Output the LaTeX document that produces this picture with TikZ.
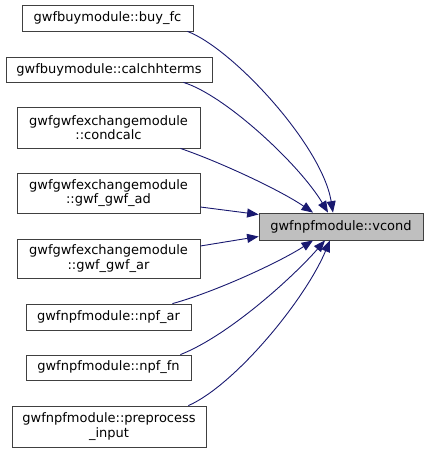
\documentclass[tikz,border=0pt]{standalone}
\usepackage{fontspec}
\setmainfont{DejaVu Sans}
\usetikzlibrary{arrows.meta}
\definecolor{edgeblue}{HTML}{191970}
\definecolor{boxgray}{HTML}{BFBFBF}
\tikzset{
  fbox/.style={draw=black!75, line width=0.8pt, fill=white, inner sep=0pt, align=center,
    font=\fontsize{13}{14.5}\selectfont},
  calledge/.style={draw=edgeblue, line width=0.9pt, -{Triangle[length=11.5pt,width=9pt]}},
}
\begin{document}
\begin{tikzpicture}[x=1pt,y=-1pt]
\useasboundingbox (0,0) rectangle (428,453);
\node[fbox, minimum width=171pt, minimum height=26pt] (buy) at (107.5,18) {gwfbuymodule::buy\_fc};
\node[fbox, minimum width=206pt, minimum height=25pt] (calch) at (109,69.5) {gwfbuymodule::calchhterms};
\node[fbox, minimum width=183pt, minimum height=41pt] (cond) at (108.5,127.5) {gwfgwfexchangemodule\\::condcalc};
\node[fbox, minimum width=183pt, minimum height=40pt] (ad) at (108.5,193) {gwfgwfexchangemodule\\::gwf\_gwf\_ad};
\node[fbox, minimum width=183pt, minimum height=39pt] (ar) at (108.5,258.5) {gwfgwfexchangemodule\\::gwf\_gwf\_ar};
\node[fbox, minimum width=165pt, minimum height=26pt] (npfar) at (108.5,317) {gwfnpfmodule::npf\_ar};
\node[fbox, minimum width=165pt, minimum height=25pt] (npffn) at (108.5,367.5) {gwfnpfmodule::npf\_fn};
\node[fbox, minimum width=194pt, minimum height=41pt] (prep) at (109,426.5) {gwfnpfmodule::preprocess\\\_input};
\node[fbox, fill=boxgray, minimum width=164pt, minimum height=27pt] (vcond) at (341,226.5) {gwfnpfmodule::vcond};

\draw[calledge] ([xshift=-6pt]buy.south east) .. controls (232,48) and (322,145) .. ([xshift=-8pt]vcond.north);
\draw[calledge] ([xshift=-29pt]calch.south east) .. controls (225,95) and (300,165) .. ([xshift=-13pt]vcond.north);
\draw[calledge] ([xshift=-20pt]cond.south east) .. controls (220,162) and (280,190) .. ([xshift=-28pt]vcond.north);
\draw[calledge] ([yshift=-14pt]ad.east) -- ([yshift=12pt]vcond.west);
\draw[calledge] ([yshift=12.5pt]ar.east) -- ([yshift=-10pt]vcond.west);
\draw[calledge] ([xshift=-19pt]npfar.north east) .. controls (215,292) and (280,262) .. ([xshift=-28pt]vcond.south);
\draw[calledge] ([xshift=-11pt]npffn.north east) .. controls (230,335) and (295,275) .. ([xshift=-16pt]vcond.south);
\draw[calledge] ([xshift=-18pt]prep.north east) .. controls (235,385) and (305,300) .. ([xshift=-11pt]vcond.south);
\end{tikzpicture}
\end{document}
